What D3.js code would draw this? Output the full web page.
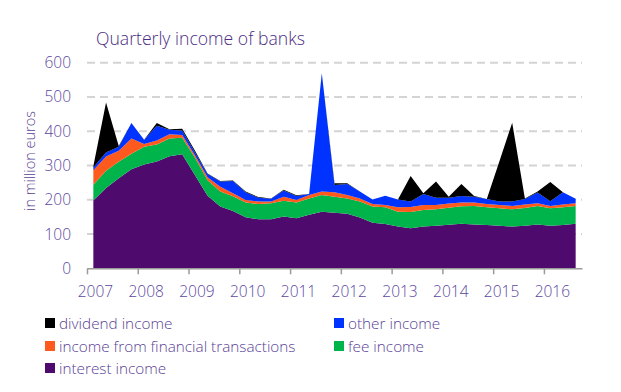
<!DOCTYPE html>
<html>
<head>
<meta charset="utf-8">
<script src="https://cdnjs.cloudflare.com/ajax/libs/d3/7.8.5/d3.min.js"></script>
<style>
  body { margin: 0; background: #fff; }
  svg text { font-family: "Open Sans", sans-serif; font-weight: 300; }
</style>
</head>
<body>
<div class="chart"></div>
<script>
// quarters 2007Q1 .. 2016Q3
const years = ['2007','2008','2009','2010','2011','2012','2013','2014','2015','2016'];
const quarters = [];
years.forEach(y => [1,2,3,4].forEach(q => quarters.push(`${y}Q${q}`)));
quarters.splice(39); // last one is 2016Q3

// values in million euros
const interest_income = [198,234,263,289,303,312,327,333,272,212,180,167,149,143,143,151,146,156,165,162,
                         159,148,133,129,122,117,122,124,127,130,128,126,124,122,124,128,124,126,130];
const fee_income      = [46,51,48,45,52,49,52,48,51,45,44,43,43,45,47,46,46,48,49,47,
                         45,47,47,49,43,47,48,48,50,51,54,52,51,50,52,54,51,52,52];
const financial_income = [42,41,32,45,8,12,12,8,7,9,14,9,7,7,5,12,7,10,10,13,
                          10,9,8,7,13,15,15,13,12,11,10,10,10,10,10,8,7,8,8];
const other_income    = [8,12,12,45,12,43,13,13,9,9,15,36,23,11,8,18,12,3,345,21,
                         32,20,13,27,23,16,32,21,17,19,17,14,10,13,16,31,14,36,13];
const dividend_income = [4,146,2,0,0,8,2,5,5,2,2,1,2,2,1,2,2,0,0,5,
                         2,0,0,0,0,74,2,47,3,35,2,0,118,230,2,3,56,0,0];

const y_ticks = [0,100,200,300,400,500,600];

const series = [
  {key: 'interest', label: 'interest income', values: interest_income, color: '#4f0a6e'},
  {key: 'fee', label: 'fee income', values: fee_income, color: '#00b44c'},
  {key: 'financial', label: 'income from financial transactions', values: financial_income, color: '#ff5a1e'},
  {key: 'other', label: 'other income', values: other_income, color: '#0033ff'},
  {key: 'dividend', label: 'dividend income', values: dividend_income, color: '#000000'}
];

const rows = quarters.map((q, i) => {
  const r = {quarter: q};
  series.forEach(s => { r[s.key] = s.values[i]; });
  return r;
});

const svg_width = 621, svg_height = 392;
const svg = d3.select('.chart').append('svg')
  .attr('width', svg_width)
  .attr('height', svg_height);

const x_scale = d3.scalePoint().domain(quarters).range([87, 582]).padding(0.5);
const y_scale = d3.scaleLinear().domain([0, 600]).range([268.3, 62.7]);

// grid
svg.append('g').selectAll('line')
  .data(y_ticks.filter(d => d > 0))
  .join('line')
  .attr('x1', 87).attr('x2', 582)
  .attr('y1', d => y_scale(d)).attr('y2', d => y_scale(d))
  .style('stroke', '#d4d4d4')
  .style('stroke-width', 2)
  .style('stroke-dasharray', '8,5');

// stacked areas
const stack = d3.stack().keys(series.map(s => s.key));
const stacked = stack(rows);
const area = d3.area()
  .x(d => x_scale(d.data.quarter))
  .y0(d => y_scale(d[0]))
  .y1(d => y_scale(d[1]));

svg.append('g').selectAll('path')
  .data(stacked)
  .join('path')
  .attr('d', area)
  .style('fill', (d, i) => series[i].color);

// x axis
const step = x_scale.step();
const x_axis = d3.axisBottom(x_scale)
  .tickValues(quarters.filter(q => q.endsWith('Q1')))
  .tickFormat(q => q.slice(0, 4))
  .tickSizeInner(6)
  .tickSizeOuter(0)
  .tickPadding(12);
const x_axis_draw = svg.append('g')
  .attr('transform', `translate(0, ${y_scale(0)})`)
  .call(x_axis);
x_axis_draw.select('.domain').style('stroke', '#9a9a9a').style('stroke-width', 1.5);
x_axis_draw.selectAll('.tick line')
  .attr('transform', `translate(${-step / 2}, 0)`)
  .style('stroke', '#9a9a9a').style('stroke-width', 1.5);
x_axis_draw.selectAll('.tick text')
  .attr('dx', '0.1em')
  .style('font-size', '15.5px')
  .style('fill', '#5b479e');

// y axis
const y_axis = d3.axisLeft(y_scale).tickValues(y_ticks).tickSize(0).tickPadding(0);
const y_axis_draw = svg.append('g')
  .attr('transform', 'translate(71, 0)')
  .call(y_axis);
y_axis_draw.select('.domain').remove();
y_axis_draw.selectAll('text')
  .style('font-size', '15.5px')
  .style('fill', '#5b479e');

// y title
svg.append('text')
  .attr('transform', 'translate(35, 161) rotate(-90)')
  .style('text-anchor', 'middle')
  .style('font-size', '14.5px')
  .style('fill', '#5a3f96')
  .text('in million euros');

// header
svg.append('text')
  .attr('x', 96).attr('y', 45)
  .style('font-size', '17.6px')
  .style('fill', '#4b2d83')
  .text('Quarterly income of banks');

// legend
const legend_items = [
  {s: series[4], x: 45, y: 318},
  {s: series[3], x: 334, y: 318},
  {s: series[2], x: 45, y: 341},
  {s: series[1], x: 334, y: 341},
  {s: series[0], x: 45, y: 363}
];
const legend = svg.append('g').selectAll('g')
  .data(legend_items)
  .join('g')
  .attr('transform', d => `translate(${d.x}, ${d.y})`);
legend.append('rect')
  .attr('width', 10).attr('height', 10)
  .style('fill', d => d.s.color);
legend.append('text')
  .attr('x', 14).attr('y', 10.5)
  .style('font-size', '15.3px')
  .style('fill', '#5a3f96')
  .text(d => d.s.label);
</script>
</body>
</html>
